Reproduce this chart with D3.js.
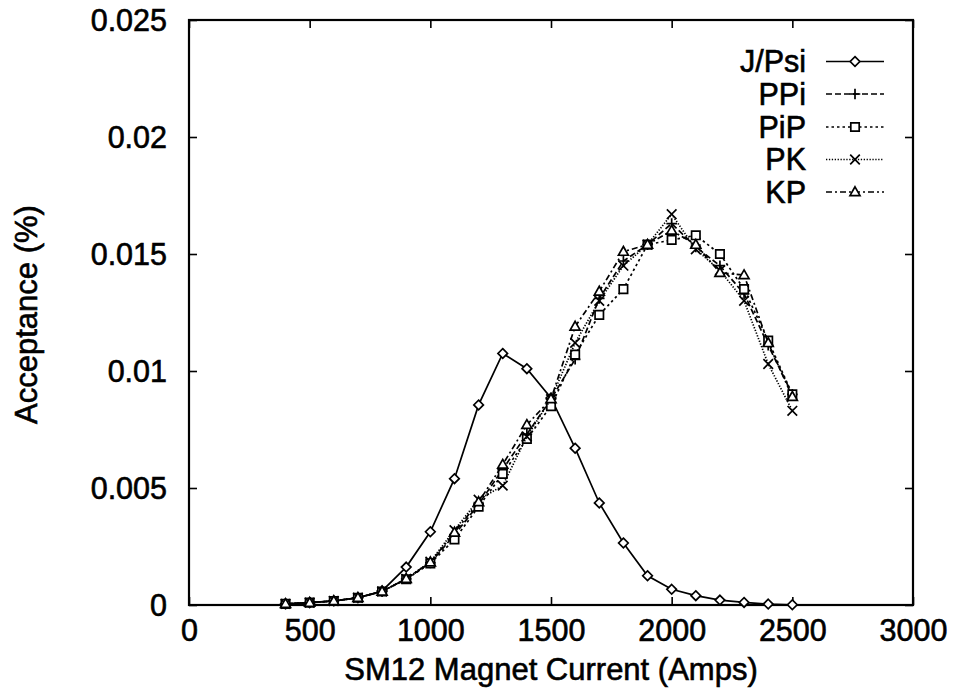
<!DOCTYPE html>
<html><head><meta charset="utf-8">
<script src="https://cdn.jsdelivr.net/npm/d3@7"></script>
<style>body{margin:0;background:#fff}svg{display:block}text{font-family:"Liberation Sans",Arial,sans-serif;fill:#000;stroke:#000;stroke-width:0.6px}</style>
</head><body><svg id="c" width="954" height="690"></svg>
<script>
const currents = [400,500,600,700,800,900,1000,1100,1200,1300,1400,1500,1600,1700,1800,1900,2000,2100,2200,2300,2400,2500];
const jpsi = [0.00005,0.0001,0.00018,0.00031,0.0006,0.00162,0.00313,0.0054,0.00855,0.01075,0.0101,0.00885,0.0067,0.00436,0.00265,0.00125,0.00067,0.0004,0.00021,0.00011,0.00004,0.00001];
const ppi  = [0.00005,0.0001,0.00017,0.00031,0.00058,0.00112,0.0018,0.0030,0.0043,0.0058,0.0073,0.0088,0.0105,0.0131,0.0147,0.0154,0.0163,0.0153,0.0145,0.0133,0.0111,0.0090];
const pip  = [0.00005,0.0001,0.00017,0.00031,0.00058,0.0011,0.00178,0.0028,0.0042,0.0056,0.0071,0.0085,0.0107,0.0124,0.0135,0.0154,0.0156,0.0158,0.0150,0.0135,0.0113,0.0090];
const pk   = [0.00005,0.0001,0.00017,0.00031,0.00058,0.00112,0.00185,0.0032,0.0045,0.0051,0.0072,0.0088,0.0112,0.0130,0.0145,0.0154,0.0167,0.0152,0.0143,0.0130,0.0103,0.0083];
const kp   = [0.00005,0.0001,0.00017,0.00031,0.00058,0.00112,0.00183,0.0031,0.0044,0.0060,0.0077,0.0088,0.0119,0.0134,0.0151,0.0154,0.0160,0.0154,0.0142,0.0141,0.0112,0.0089];
const seriesNames = ["J/Psi","PPi","PiP","PK","KP"];
const xTicks = [0,500,1000,1500,2000,2500,3000];
const yTicks = [0,0.005,0.01,0.015,0.02,0.025];
const yTickLabels = ["0","0.005","0.01","0.015","0.02","0.025"];
const xLabel = "SM12 Magnet Current (Amps)";
const yLabel = "Acceptance (%)";

const series = [
  {name:seriesNames[0], values:jpsi, dash:null, marker:"diamond"},
  {name:seriesNames[1], values:ppi, dash:"6,3", marker:"plus"},
  {name:seriesNames[2], values:pip, dash:"2.5,3", marker:"square"},
  {name:seriesNames[3], values:pk, dash:"1.3,1.6", marker:"times"},
  {name:seriesNames[4], values:kp, dash:"6,3,2,3", marker:"triangle"}
];

const L=189, R=913, T=20, B=605;
const x = d3.scaleLinear().domain([0,3000]).range([L,R]);
const y = d3.scaleLinear().domain([0,0.025]).range([B,T]);
const svg = d3.select("#c");
const FS = 30.5;
const LW = 1.7;

function markerPath(type){
  const p = d3.path(); const s = 4.8;
  if(type==="diamond"){p.moveTo(0,-s);p.lineTo(s,0);p.lineTo(0,s);p.lineTo(-s,0);p.closePath();}
  else if(type==="plus"){p.moveTo(-s-0.5,0);p.lineTo(s+0.5,0);p.moveTo(0,-s-0.5);p.lineTo(0,s+0.5);}
  else if(type==="square"){p.rect(-4.2,-4.2,8.4,8.4);}
  else if(type==="times"){p.moveTo(-s,-s);p.lineTo(s,s);p.moveTo(-s,s);p.lineTo(s,-s);}
  else if(type==="triangle"){p.moveTo(0,-5.2);p.lineTo(5,3.6);p.lineTo(-5,3.6);p.closePath();}
  return p.toString();
}

// axes (ticks inward, mirrored)
const gx = svg.append("g").attr("transform",`translate(0,${B})`)
  .call(d3.axisBottom(x).tickValues(xTicks).tickSize(-8).tickPadding(14).tickFormat(d3.format("d")));
const gxt = svg.append("g").attr("transform",`translate(0,${T})`)
  .call(d3.axisTop(x).tickValues(xTicks).tickSize(-8).tickFormat(""));
const gy = svg.append("g").attr("transform",`translate(${L},0)`)
  .call(d3.axisLeft(y).tickValues(yTicks).tickSize(-8).tickPadding(22).tickFormat((d,i)=>yTickLabels[i]));
const gyr = svg.append("g").attr("transform",`translate(${R},0)`)
  .call(d3.axisRight(y).tickValues(yTicks).tickSize(-8).tickFormat(""));
[gx,gxt,gy,gyr].forEach(g=>{
  g.select(".domain").remove();
  g.selectAll("line").attr("stroke","#000").attr("stroke-width",1.6);
  g.selectAll("text").style("font-size",FS+"px").attr("fill","#000")
   .style("font-family",'"Liberation Sans",Arial,sans-serif');
});
gx.selectAll("text").attr("dy","0.71em");
gy.selectAll("text").attr("dy","0.36em");

// frame
svg.append("rect").attr("x",L).attr("y",T).attr("width",R-L).attr("height",B-T)
  .attr("fill","none").attr("stroke","#000").attr("stroke-width",2.2);

// labels
svg.append("text").attr("x",(L+R)/2).attr("y",680).attr("text-anchor","middle")
  .style("font-size","31px").text(xLabel);
svg.append("text").attr("transform",`translate(37,${(T+B)/2+2}) rotate(-90)`).attr("text-anchor","middle")
  .style("font-size","31px").text(yLabel);

// series
const line = d3.line().x((d,i)=>x(currents[i])).y(d=>y(d));
series.forEach(s=>{
  const g = svg.append("g");
  g.append("path").attr("d",line(s.values)).attr("fill","none").attr("stroke","#000")
    .attr("stroke-width",LW).attr("stroke-dasharray",s.dash);
  g.selectAll("path.m").data(s.values).join("path").attr("class","m")
    .attr("transform",(d,i)=>`translate(${x(currents[i])},${y(d)})`)
    .attr("d",markerPath(s.marker))
    .attr("fill",(s.marker==="plus"||s.marker==="times")?"none":"#fff")
    .attr("stroke","#000").attr("stroke-width",LW);
});

// legend
const legY = [61.5,94,127,159.5,192];
series.forEach((s,i)=>{
  const g = svg.append("g").attr("transform",`translate(0,${legY[i]})`);
  g.append("text").attr("x",806).attr("y",0).attr("dy","0.36em").attr("text-anchor","end")
    .style("font-size",FS+"px").text(s.name);
  g.append("line").attr("x1",826).attr("x2",884).attr("y1",0).attr("y2",0)
    .attr("stroke","#000").attr("stroke-width",LW).attr("stroke-dasharray",s.dash);
  g.append("path").attr("transform","translate(855,0)").attr("d",markerPath(s.marker))
    .attr("fill",(s.marker==="plus"||s.marker==="times")?"none":"#fff")
    .attr("stroke","#000").attr("stroke-width",LW);
});
</script></body></html>
